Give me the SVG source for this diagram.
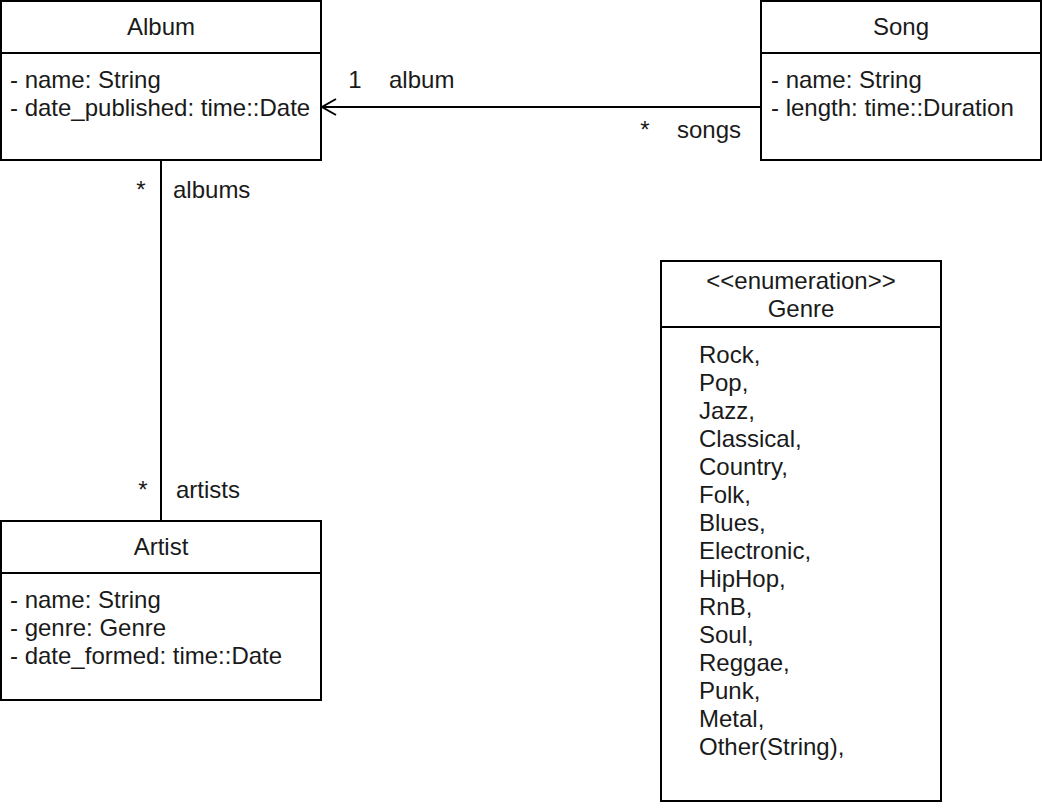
<svg xmlns="http://www.w3.org/2000/svg" width="1042" height="808" viewBox="0 0 1042 808">
<style>
.box{fill:#fff;stroke:#000;stroke-width:2}
.div{stroke:#000;stroke-width:2}
text{font-family:"Liberation Sans",Arial,sans-serif;font-size:24px;fill:#1a1a1a}
.c{text-anchor:middle}
.edge{stroke:#000;stroke-width:2;fill:none}
</style>
<defs>
<marker id="open" markerWidth="20" markerHeight="20" refX="15" refY="9" orient="auto" markerUnits="userSpaceOnUse">
<path d="M1,1 L15,9 L1,17" fill="none" stroke="#000" stroke-width="2"/>
</marker>
</defs>
<rect width="1042" height="808" fill="#fff"/>
<g id="album">
<rect class="box" x="1" y="1" width="320" height="159"/>
<line class="div" x1="1" y1="53" x2="321" y2="53"/>
<text x="161" y="35" class="c">Album</text>
<text x="10" y="88">- name: String</text>
<text x="10" y="116">- date_published: time::Date</text>
</g>
<g id="song">
<rect class="box" x="761" y="1" width="280" height="159"/>
<line class="div" x1="761" y1="53" x2="1041" y2="53"/>
<text x="901" y="35" class="c">Song</text>
<text x="771" y="88">- name: String</text>
<text x="771" y="116">- length: time::Duration</text>
</g>
<g id="artist">
<rect class="box" x="1" y="521" width="320" height="179"/>
<line class="div" x1="1" y1="573" x2="321" y2="573"/>
<text x="161" y="555" class="c">Artist</text>
<text x="10" y="608">- name: String</text>
<text x="10" y="636">- genre: Genre</text>
<text x="10" y="664">- date_formed: time::Date</text>
</g>
<g id="genre">
<rect class="box" x="661" y="261" width="280" height="540"/>
<line class="div" x1="661" y1="327" x2="941" y2="327"/>
<text x="801" y="289" class="c">&lt;&lt;enumeration&gt;&gt;</text>
<text x="801" y="317" class="c">Genre</text>
<text x="699" y="363">Rock,</text>
<text x="699" y="391">Pop,</text>
<text x="699" y="419">Jazz,</text>
<text x="699" y="447">Classical,</text>
<text x="699" y="475">Country,</text>
<text x="699" y="503">Folk,</text>
<text x="699" y="531">Blues,</text>
<text x="699" y="559">Electronic,</text>
<text x="699" y="587">HipHop,</text>
<text x="699" y="615">RnB,</text>
<text x="699" y="643">Soul,</text>
<text x="699" y="671">Reggae,</text>
<text x="699" y="699">Punk,</text>
<text x="699" y="727">Metal,</text>
<text x="699" y="755">Other(String),</text>
</g>
<g id="edges">
<line class="edge" x1="761" y1="107" x2="322" y2="107" marker-end="url(#open)"/>
<line class="edge" x1="161" y1="160" x2="161" y2="521"/>
<text x="355" y="88" class="c">1</text>
<text x="389" y="88">album</text>
<text x="645" y="138" class="c">*</text>
<text x="677" y="138">songs</text>
<text x="141" y="198" class="c">*</text>
<text x="173" y="198">albums</text>
<text x="143" y="498" class="c">*</text>
<text x="176" y="498">artists</text>
</g>
</svg>
